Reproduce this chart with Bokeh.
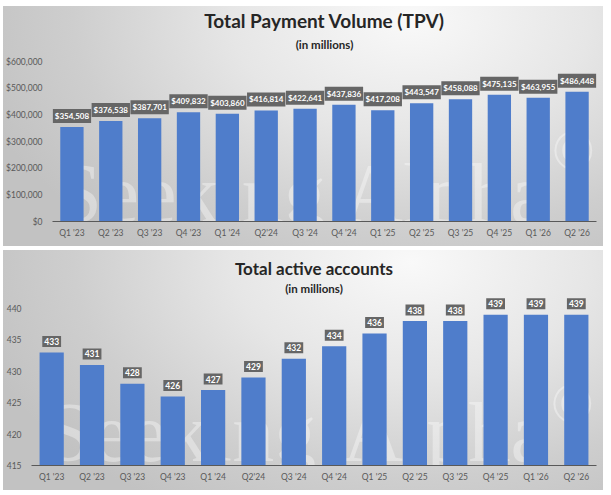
from bokeh.plotting import figure
from bokeh.models import ColumnDataSource, NumeralTickFormatter, FixedTicker, Title, Range1d, FactorRange
from bokeh.core.properties import value
from bokeh.embed import file_html
from bokeh.resources import INLINE

quarters = ["Q1 '23", "Q2 '23", "Q3 '23", "Q4 '23", "Q1 '24", "Q2'24", "Q3 '24",
            "Q4 '24", "Q1 '25", "Q2 '25", "Q3 '25", "Q4 '25", "Q1 '26", "Q2 '26"]
tpv = [354508, 376538, 387701, 409832, 403860, 416814, 422641,
       437836, 417208, 443547, 458088, 475135, 463955, 486448]
accounts = [433, 431, 428, 426, 427, 429, 432, 434, 436, 438, 438, 439, 439, 439]
tpv_ticks = [0, 100000, 200000, 300000, 400000, 500000, 600000]
acc_ticks = [415, 420, 425, 430, 435, 440]

FONT = "Lato"
BAR = "#4f7dcb"
BOX = "#666666"
TICK = "#595959"
GRADIENT = ("radial-gradient(ellipse 75% 120% at 68% 5%, #f9f9f9 0%, #e6e6e6 40%, "
            "#cecece 75%, #c2c2c2 100%)")


def make_fig(title, title_size, sub, sub_standoff, spacer, values, labels, y0, y1, ticks,
             fmt, left, label_size, wm, margin_top):
    src = ColumnDataSource(dict(q=quarters, v=values, lab=labels))
    p = figure(x_range=FactorRange(*quarters), y_range=Range1d(y0, y1),
               width=600, height=240, output_backend="svg", toolbar_location=None,
               min_border_left=left, min_border_right=7, min_border_bottom=25,
               min_border_top=0)
    p.styles = {"background": GRADIENT, "vertical-align": "top",
                "margin-top": margin_top, "margin-left": "3px"}
    p.border_fill_color = None
    p.background_fill_color = None
    p.outline_line_color = None
    p.grid.grid_line_color = None

    p.add_layout(Title(text=sub, align="center", text_font=FONT, text_font_size="11.5px",
                       text_font_style="bold", text_color="#262626", standoff=sub_standoff), "above")
    p.add_layout(Title(text=title, align="center", text_font=FONT, text_font_size=title_size,
                       text_font_style="bold", text_color="#262626", standoff=0), "above")
    if spacer:
        p.add_layout(Title(text=" ", text_font_size=spacer, standoff=0), "above")

    # watermark
    wx, wy, cx, cy = wm
    p.text(x=[wx[0], wx[1]], y=[wy, wy], text=["Seeking", "Alpha"],
           text_font=value("Liberation Serif"), text_font_size="84px",
           text_align="center", text_baseline="alphabetic", text_color="white", text_alpha=0.36)
    p.text(x=[cx], y=[cy], text=["\u00a9"], text_font=value("Liberation Serif"),
           text_font_size="56px", text_align="center", text_baseline="middle",
           text_color="white", text_alpha=0.36)

    p.vbar(x="q", top="v", bottom=y0, width=0.6, source=src, fill_color=BAR, line_color=None)
    p.text(x="q", y="v", text="lab", source=src, text_font=value(FONT),
           text_font_size=label_size, text_font_style="bold", text_color="white",
           text_align="center", text_baseline="middle", y_offset=-11,
           background_fill_color=BOX, padding=2)

    p.yaxis.ticker = FixedTicker(ticks=ticks)
    p.yaxis.formatter = fmt
    p.yaxis.axis_line_color = None
    p.yaxis.major_tick_line_color = None
    p.yaxis.minor_tick_line_color = None
    p.yaxis.major_label_standoff = 4
    p.xaxis.axis_line_color = "#595959"
    p.xaxis.major_tick_line_color = None
    p.xaxis.minor_tick_line_color = None
    p.xaxis.major_label_standoff = 0
    for ax in (p.xaxis, p.yaxis):
        ax.major_label_text_font = FONT
        ax.major_label_text_font_size = "8.5px"
        ax.major_label_text_color = TICK
    return p


tpv_labels = ["${:,}".format(v) for v in tpv]
acc_labels = [str(v) for v in accounts]

p1 = make_fig("Total Payment Volume (TPV)", "19px", "(in millions)", 8, None, tpv, tpv_labels,
              0, 626400, tpv_ticks, NumeralTickFormatter(format="$0,0"), 47, "8px",
              ([3.55, 10.1], 105000, 13.4, 268000), "6px")
p2 = make_fig("Total active accounts", "17px", "(in millions)", 3, "3px", accounts, acc_labels,
              415, 441.9, acc_ticks, NumeralTickFormatter(format="0"), 27, "8.5px",
              ([3.7, 10.25], 420.2, 13.4, 425.0), "4px")

open("out.html", "w").write(file_html([p1, p2], INLINE))
